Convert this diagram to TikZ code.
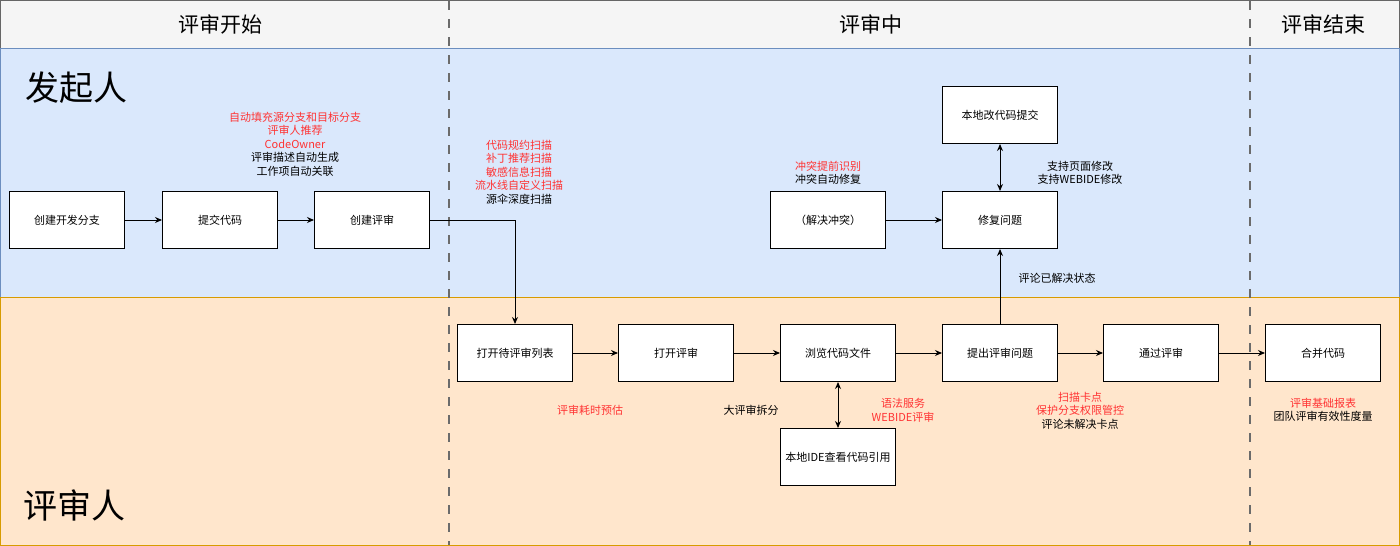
\documentclass[tikz,border=0pt]{standalone}
\usepackage{fontspec}
\setmainfont{Noto Sans CJK SC}
\usetikzlibrary{arrows.meta,positioning}
\definecolor{hintred}{HTML}{FF3333}
\definecolor{headfill}{HTML}{F5F5F5}
\definecolor{blueback}{HTML}{DAE8FC}
\definecolor{blueline}{HTML}{6C8EBF}
\definecolor{orangeback}{HTML}{FFE6CC}
\definecolor{orangeline}{HTML}{D79B00}
\tikzset{
  stepbox/.style={draw=black, line width=1pt, fill=white, minimum width=115pt, minimum height=57pt, inner sep=0pt, align=center, font=\fontsize{11}{13}\selectfont},
  note/.style={align=center, inner sep=0pt, font=\fontsize{11}{13.5}\selectfont},
  phase/.style={font=\fontsize{21}{24}\selectfont},
  role/.style={anchor=west, inner sep=0pt, font=\fontsize{34}{38}\selectfont},
  divider/.style={draw=black!58, line width=2.8pt, dash pattern=on 9pt off 9pt}
}
\newcommand{\hint}[1]{\textcolor{hintred}{#1}}

\begin{document}
\begin{tikzpicture}[x=1pt, y=-1pt, >={Stealth[length=7pt,width=6pt]}, line width=1pt]
  \useasboundingbox (0,0) rectangle (1400,546);
  % lanes
  \draw[draw=black!60, fill=headfill] (0.5,0.5) rectangle (1399.5,48);
  \draw[draw=blueline, fill=blueback] (0.5,48) rectangle (1399.5,297);
  \draw[draw=orangeline, fill=orangeback] (0.5,297) rectangle (1399.5,545.5);
  \node[phase] (start) at (220,24) {评审开始};
  \node[phase] (middle) at (871,24) {评审中};
  \node[phase] (finish) at (1323,24) {评审结束};
  \node[role] (author) at (25,88) {发起人};
  \node[role] (reviewer) at (23,505) {评审人};
  \draw[divider] (449,1) -- (449,545);
  \draw[divider] (1250,1) -- (1250,545);

  % author lane
  \node[stepbox] (newbranch) at (67,220) {创建开发分支};
  \node[stepbox] (commit) at (220,220) {提交代码};
  \node[stepbox] (create) at (372,220) {创建评审};
  \node[stepbox] (conflict) at (828,220) {（解决冲突）};
  \node[stepbox] (fix) at (1000,220) {修复问题};
  \node[stepbox] (localfix) at (1000,115) {本地改代码提交};

  % reviewer lane
  \node[stepbox] (openlist) at (515,353) {打开待评审列表};
  \node[stepbox] (open) at (676,353) {打开评审};
  \node[stepbox] (browse) at (838,353) {浏览代码文件};
  \node[stepbox] (raise) at (1000,353) {提出评审问题};
  \node[stepbox] (approve) at (1161,353) {通过评审};
  \node[stepbox] (merge) at (1323,353) {合并代码};
  \node[stepbox] (localide) at (838,457) {本地IDE查看代码引用};

  \draw[->] (newbranch) -- (commit);
  \draw[->] (commit) -- (create);
  \draw[->] (create.east) -| (openlist.north);
  \draw[->] (openlist) -- (open);
  \draw[->] (open) -- (browse);
  \draw[->] (browse) -- (raise);
  \draw[->] (raise) -- (approve);
  \draw[->] (approve) -- (merge);
  \draw[<->] (browse) -- (localide);
  \draw[->] (conflict) -- (fix);
  \draw[->] (raise) -- (fix);
  \draw[<->] (fix) -- (localfix);

  % notes
  \node[note] (createnote) at (295,144) {\hint{自动填充源分支和目标分支}\\\hint{评审人推荐}\\\hint{CodeOwner}\\评审描述自动生成\\工作项自动关联};
  \node[note] (scannote) at (519,172) {\hint{代码规约扫描}\\\hint{补丁推荐扫描}\\\hint{敏感信息扫描}\\\hint{流水线自定义扫描}\\源伞深度扫描};
  \node[note] (conflictnote) at (828,173) {\hint{冲突提前识别}\\冲突自动修复};
  \node[note] (fixnote) at (1080,173) {支持页面修改\\支持WEBIDE修改};
  \node[note] (resolvednote) at (1057,278) {评论已解决状态};
  \node[note] (timenote) at (590,410) {\hint{评审耗时预估}};
  \node[note] (splitnote) at (751,410) {大评审拆分};
  \node[note] (syntaxnote) at (903,410.5) {\hint{语法服务}\\\hint{WEBIDE评审}};
  \node[note] (gatenote) at (1080,410.5) {\hint{扫描卡点}\\\hint{保护分支权限管控}\\评论未解决卡点};
  \node[note] (reportnote) at (1323,410) {\hint{评审基础报表}\\团队评审有效性度量};
\end{tikzpicture}
\end{document}
